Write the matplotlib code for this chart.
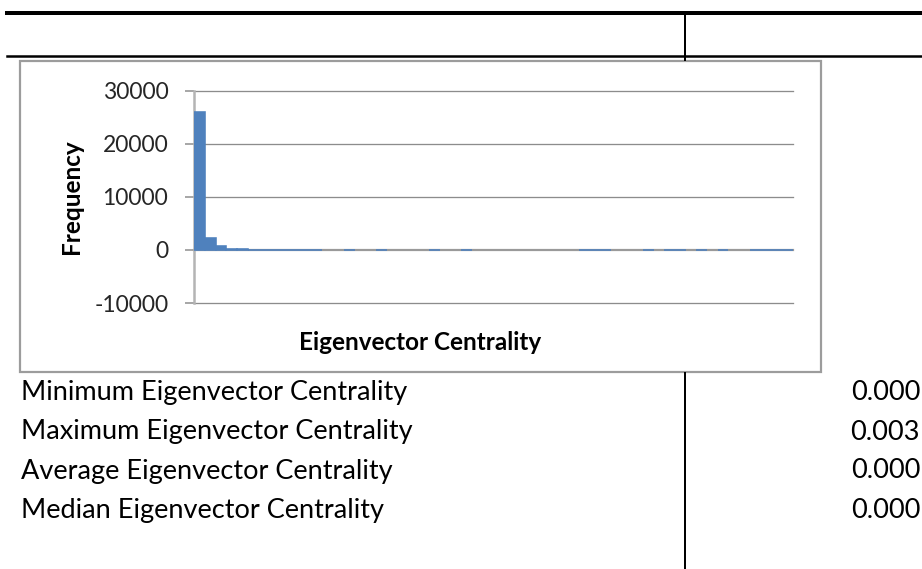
import matplotlib
matplotlib.use("Agg")
import matplotlib.pyplot as plt
from matplotlib.lines import Line2D
from matplotlib.patches import Rectangle
import numpy as np

# Histogram of eigenvector centrality (56 equal-width bins)
frequency = [25900, 2300, 650, 150, 90, 60, 40, 30, 20, 15, 10, 8, 0, 0,
             5, 0, 0, 4, 0, 0, 0, 0, 3, 0, 0, 2, 0, 0, 0, 0, 0, 0, 0, 0,
             0, 0, 2, 2, 3, 0, 0, 0, 2, 0, 2, 2, 0, 2, 0, 2, 0, 0, 3, 3,
             2, 4]
bins = np.arange(len(frequency))
y_ticks = [-10000, 0, 10000, 20000, 30000]

stat_labels = ["Minimum Eigenvector Centrality",
               "Maximum Eigenvector Centrality",
               "Average Eigenvector Centrality",
               "Median Eigenvector Centrality"]
stat_values = [0.000, 0.003, 0.000, 0.000]

BAR = "#4f81bd"
GRID = "#8c8c8c"
FONT = "Lato"

W, H = 922, 569
def fx(x):
    return x / W
def fy(y):
    return 1 - y / H
def pt(px):
    return px * 72 / 100

fig = plt.figure(figsize=(W / 100, H / 100), dpi=100)
fig.patch.set_facecolor("white")

# table rules
fig.add_artist(Line2D([fx(7), fx(922)], [fy(13), fy(13)], color="black", lw=pt(4)))
fig.add_artist(Line2D([fx(7), fx(922)], [fy(55.5), fy(55.5)], color="black", lw=pt(2.5)))
fig.add_artist(Line2D([fx(685), fx(685)], [fy(13), fy(60)], color="black", lw=pt(2)))
fig.add_artist(Line2D([fx(685), fx(685)], [fy(373), fy(569)], color="black", lw=pt(2)))

# chart frame
fig.add_artist(Rectangle((fx(20), fy(372)), (821 - 20) / W, (372 - 61) / H,
                         transform=fig.transFigure, fill=False,
                         edgecolor="#9c9c9c", lw=pt(2.2)))

ax = fig.add_axes([fx(194.3), fy(303), (792.5 - 194.3) / W, (303 - 90.7) / H])
ax.patch.set_alpha(0)
ax.set_xlim(0, len(frequency))
ax.set_ylim(-10000, 30000)
ax.set_yticks(y_ticks)
ax.set_yticklabels([str(v) for v in y_ticks], fontfamily=FONT, fontsize=16.5, color="#262626")
ax.set_xticks([])
for v in y_ticks:
    ax.axhline(v, color=GRID if v != 0 else "#9a9a9a",
               lw=pt(1.3) if v != 0 else pt(2.2), zorder=1, clip_on=False)
for s in ("top", "right", "bottom"):
    ax.spines[s].set_visible(False)
ax.spines["left"].set_color("#b4b4b4")
ax.spines["left"].set_linewidth(pt(2.5))
ax.tick_params(axis="y", length=pt(9), width=pt(1.5), color=GRID, pad=pt(17))

edges = [BAR if f > 0 else "none" for f in frequency]
ax.bar(bins, frequency, width=1.0, align="edge", color=BAR,
       edgecolor=edges, lw=pt(1.6), zorder=3)

fig.text(fx(420), fy(350), "Eigenvector Centrality", ha="center", va="baseline",
         fontfamily=FONT, fontweight="bold", fontsize=17.5, color="#000000")
fig.text(fx(71), fy(196.5), "Frequency", ha="center", va="center", rotation=90,
         fontfamily=FONT, fontweight="bold", fontsize=17.5, color="#000000")

baselines = [400, 439.5, 478.5, 518]
for lab, val, yb in zip(stat_labels, stat_values, baselines):
    fig.text(fx(21), fy(yb), lab, ha="left", va="baseline",
             fontfamily=FONT, fontsize=19.5, color="#000000")
    fig.text(fx(920), fy(yb), f"{val:.3f}", ha="right", va="baseline",
             fontfamily=FONT, fontsize=19.5, color="#000000")

fig.savefig("out.png", dpi=100)
